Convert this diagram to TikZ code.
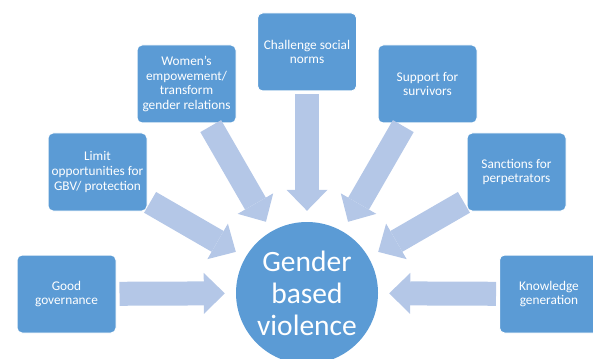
\documentclass[tikz,border=0pt]{standalone}
\usepackage{fontspec}
\setmainfont{Carlito}
\usepackage{tikz}
\usetikzlibrary{arrows.meta}
\definecolor{boxblue}{HTML}{5B9BD5}
\definecolor{arrowblue}{HTML}{B4C7E7}

\begin{document}
\begin{tikzpicture}[x=1pt, y=-1pt, factor/.style={rectangle, rounded corners=5pt, draw=white, line width=1pt, fill=boxblue, text=white, minimum width=99pt, minimum height=78pt, inner sep=1pt, align=center, font=\fontsize{13.3}{14.7}\selectfont}, centre/.style={circle, fill=boxblue, text=white, minimum size=142pt, inner sep=0pt, align=center, font=\fontsize{29.5}{32}\selectfont}, push/.style={draw=arrowblue, line width=24pt, -{Triangle[width=41pt, length=21pt, line width=0pt, fill=arrowblue]}, shorten <=3pt, shorten >=11pt}]

\path[use as bounding box, clip] (0,0) rectangle (593,358);

\node[centre] (GBV) at (307,293) {Gender\\based\\violence};

\node[factor] (F1) at (66.5,294) {Good\\governance};
\node[factor] (F2) at (97.5,172) {Limit\\opportunities for\\GBV/ protection};
\node[factor] (F3) at (186.5,84) {Women's\\empowement/\\transform\\gender relations};
\node[factor] (F4) at (307,52) {Challenge social\\norms};
\node[factor] (F5) at (427.5,84) {Support for\\survivors};
\node[factor] (F6) at (516.5,172) {Sanctions for\\perpetrators};
\node[factor] (F7) at (549,294) {Knowledge\\generation};

\foreach \from in {F1,F2,F3,F4,F5,F6,F7}
    \draw[push] (\from) -- (GBV);
\end{tikzpicture}
\end{document}
